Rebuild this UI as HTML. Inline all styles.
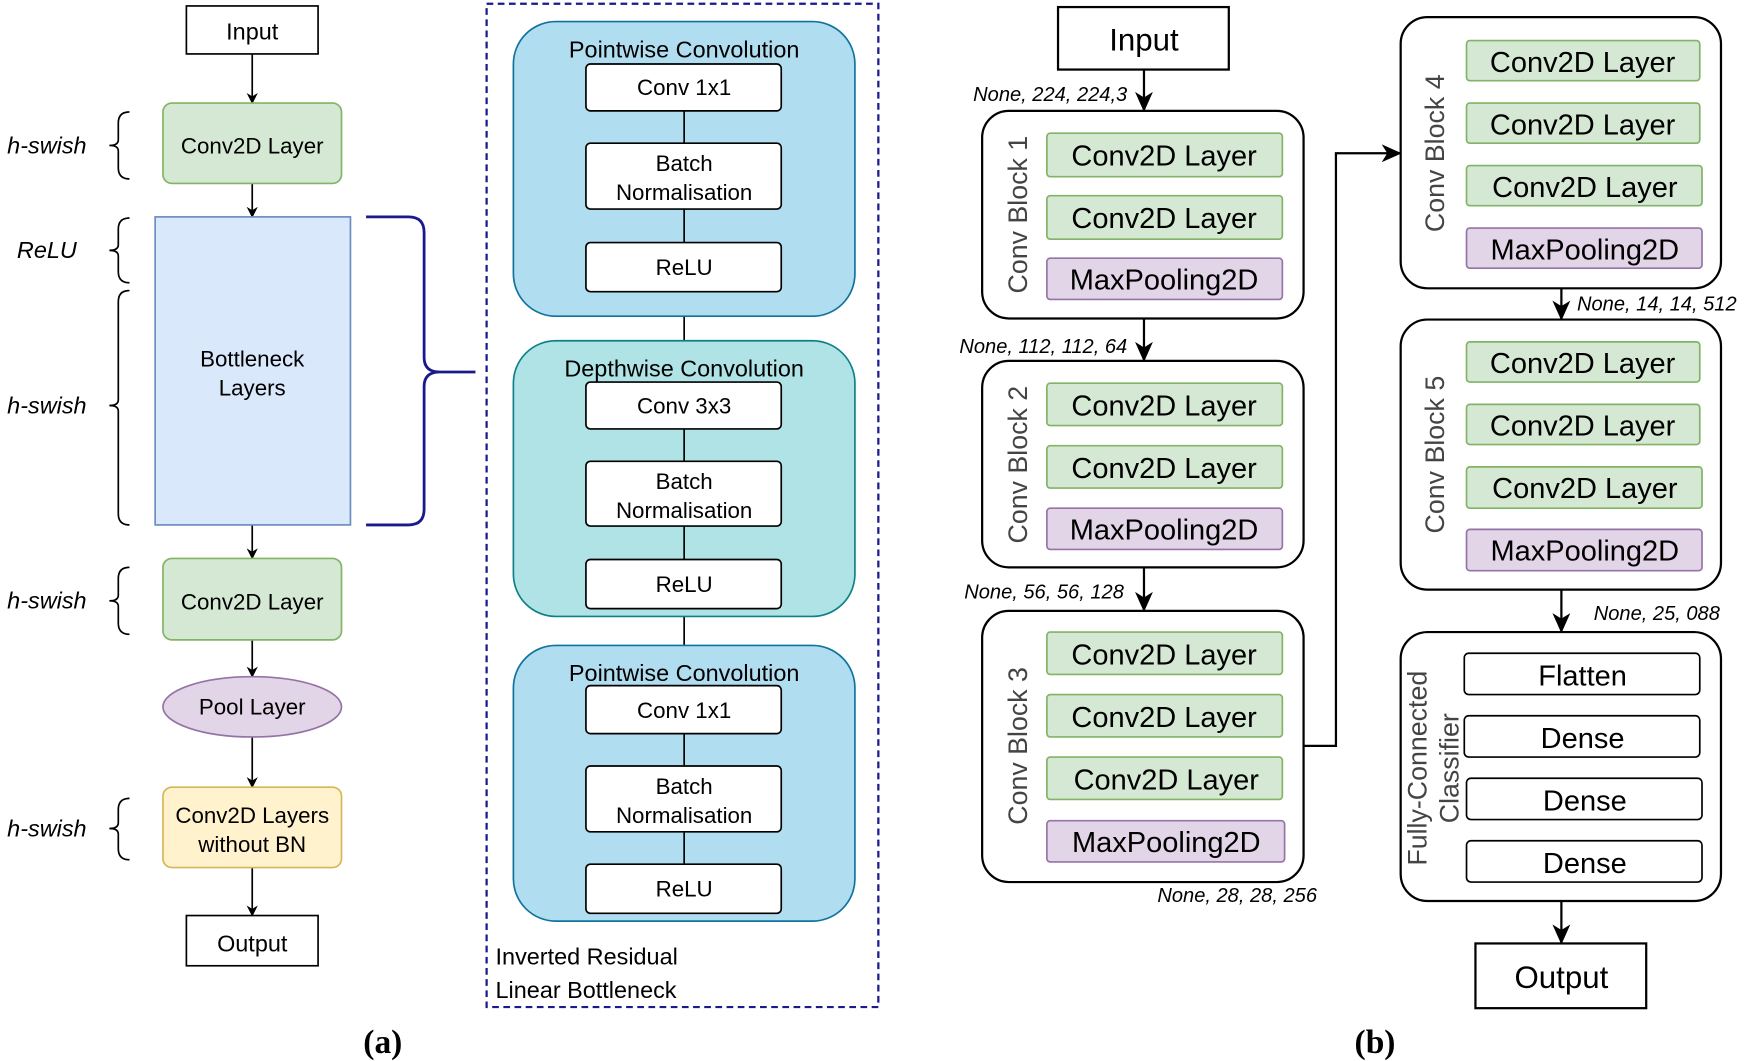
<!DOCTYPE html>
<html><head><meta charset="utf-8"><style>
html,body{margin:0;padding:0;background:#fff}
svg{display:block}
text{font-family:"Liberation Sans",sans-serif;fill:#000}
.i{font-style:italic}
</style></head><body>
<svg width="1750" height="1061" viewBox="0 0 1568 950" xmlns="http://www.w3.org/2000/svg">
<defs><marker id="a" markerWidth="10" markerHeight="10" refX="9" refY="5" orient="auto" markerUnits="userSpaceOnUse"><path d="M0,0 L10,5 L0,10 L3,5 z" fill="#000"/></marker>
<marker id="b" markerWidth="18" markerHeight="16" refX="17" refY="8" orient="auto" markerUnits="userSpaceOnUse"><path d="M0,0 L18,8 L0,16 L5,8 z" fill="#000"/></marker></defs>
<g stroke="#000" stroke-width="1.5" fill="none">
<!-- (a) arrows -->
<line x1="226" y1="48" x2="226" y2="92" marker-end="url(#a)"/>
<line x1="226" y1="164" x2="226" y2="194" marker-end="url(#a)"/>
<line x1="226" y1="470" x2="226" y2="500" marker-end="url(#a)"/>
<line x1="226" y1="573" x2="226" y2="606" marker-end="url(#a)"/>
<line x1="226" y1="660" x2="226" y2="705" marker-end="url(#a)"/>
<line x1="226" y1="777" x2="226" y2="820" marker-end="url(#a)"/>
<!-- braces -->
<path d="M116,100 q-10,0 -10,10 v15 q0,5 -8,5 q8,0 8,5 v15 q0,10 10,10"/>
<path d="M116,195 q-10,0 -10,10 v14 q0,5 -8,5 q8,0 8,5 v14 q0,10 10,10"/>
<path d="M116,260 q-10,0 -10,10 v88 q0,5 -8,5 q8,0 8,5 v92 q0,10 10,10"/>
<path d="M116,508 q-10,0 -10,10 v15 q0,5 -8,5 q8,0 8,5 v15 q0,10 10,10"/>
<path d="M116,715 q-10,0 -10,10 v12 q0,5 -8,5 q8,0 8,5 v13 q0,10 10,10"/>
</g>
<rect x="167" y="5" width="118" height="43" fill="#fff" stroke="#000" stroke-width="1.5"/>
<text x="226" y="35" font-size="21" text-anchor="middle">Input</text>
<rect x="146" y="92" width="160" height="72" rx="8" fill="#d5e8d4" stroke="#82b366" stroke-width="1.5"/>
<text x="226" y="137" font-size="20" text-anchor="middle">Conv2D Layer</text>
<rect x="139" y="194" width="175" height="276" fill="#dae8fc" stroke="#6c8ebf" stroke-width="1.5"/>
<text x="226" y="328" font-size="20" text-anchor="middle">Bottleneck</text>
<text x="226" y="354" font-size="20" text-anchor="middle">Layers</text>
<rect x="146" y="500" width="160" height="73" rx="8" fill="#d5e8d4" stroke="#82b366" stroke-width="1.5"/>
<text x="226" y="546" font-size="20" text-anchor="middle">Conv2D Layer</text>
<ellipse cx="226" cy="633" rx="80" ry="27" fill="#e1d5e7" stroke="#9673a6" stroke-width="1.5"/>
<text x="226" y="640" font-size="20" text-anchor="middle">Pool Layer</text>
<rect x="146" y="705" width="160" height="72" rx="8" fill="#fff2cc" stroke="#d6b656" stroke-width="1.5"/>
<text x="226" y="737" font-size="20" text-anchor="middle">Conv2D Layers</text>
<text x="226" y="763" font-size="20" text-anchor="middle">without BN</text>
<rect x="167" y="820" width="118" height="45" fill="#fff" stroke="#000" stroke-width="1.5"/>
<text x="226" y="852" font-size="21" text-anchor="middle">Output</text>
<text x="42" y="137" font-size="21" class="i" text-anchor="middle">h-swish</text>
<text x="42" y="231" font-size="21" class="i" text-anchor="middle">ReLU</text>
<text x="42" y="370" font-size="21" class="i" text-anchor="middle">h-swish</text>
<text x="42" y="545" font-size="21" class="i" text-anchor="middle">h-swish</text>
<text x="42" y="749" font-size="21" class="i" text-anchor="middle">h-swish</text>
<path d="M328,194 h38 q14,0 14,14 v112 q0,13 14,13 h32 M394,333 q-14,0 -14,13 v110 q0,14 -14,14 h-38" fill="none" stroke="#1a1a8c" stroke-width="2.5"/>
<rect x="436" y="3" width="351" height="899" fill="none" stroke="#1a1a8c" stroke-width="2" stroke-dasharray="6,4"/>
<g stroke="#000" stroke-width="1.5"><line x1="613" y1="283" x2="613" y2="305"/><line x1="613" y1="552" x2="613" y2="578"/></g>
<rect x="460" y="19" width="306" height="264" rx="38" fill="#b1ddf0" stroke="#10739e" stroke-width="1.5"/>
<rect x="460" y="305" width="306" height="247" rx="38" fill="#b0e3e6" stroke="#0e8088" stroke-width="1.5"/>
<rect x="460" y="578" width="306" height="247" rx="38" fill="#b1ddf0" stroke="#10739e" stroke-width="1.5"/>
<text x="613" y="51" font-size="21" text-anchor="middle">Pointwise Convolution</text>
<text x="613" y="337" font-size="21" text-anchor="middle">Depthwise Convolution</text>
<text x="613" y="610" font-size="21" text-anchor="middle">Pointwise Convolution</text>
<g stroke="#000" stroke-width="1.5">
<line x1="613" y1="99" x2="613" y2="217"/><line x1="613" y1="384" x2="613" y2="501"/><line x1="613" y1="657" x2="613" y2="774"/>
</g>
<g fill="#fff" stroke="#000" stroke-width="1.5">
<rect x="525" y="57" width="175" height="42" rx="4"/><rect x="525" y="128" width="175" height="59" rx="4"/><rect x="525" y="217" width="175" height="44" rx="4"/>
<rect x="525" y="342" width="175" height="42" rx="4"/><rect x="525" y="413" width="175" height="58" rx="4"/><rect x="525" y="501" width="175" height="44" rx="4"/>
<rect x="525" y="614" width="175" height="43" rx="4"/><rect x="525" y="686" width="175" height="59" rx="4"/><rect x="525" y="774" width="175" height="44" rx="4"/>
</g>
<g font-size="20" text-anchor="middle">
<text x="613" y="85">Conv 1x1</text><text x="613" y="153">Batch</text><text x="613" y="179">Normalisation</text><text x="613" y="246">ReLU</text>
<text x="613" y="370">Conv 3x3</text><text x="613" y="438">Batch</text><text x="613" y="464">Normalisation</text><text x="613" y="530">ReLU</text>
<text x="613" y="643">Conv 1x1</text><text x="613" y="711">Batch</text><text x="613" y="737">Normalisation</text><text x="613" y="803">ReLU</text>
</g>
<text x="444" y="864" font-size="21">Inverted Residual</text>
<text x="444" y="894" font-size="21">Linear Bottleneck</text>
<text x="343" y="943" font-size="30" font-weight="bold" text-anchor="middle" style="font-family:'Liberation Serif',serif">(a)</text>
<!-- (b) -->
<g stroke="#000" stroke-width="2" fill="none">
<line x1="1025" y1="62" x2="1025" y2="99" marker-end="url(#b)"/>
<line x1="1025" y1="285" x2="1025" y2="323" marker-end="url(#b)"/>
<line x1="1025" y1="508" x2="1025" y2="547" marker-end="url(#b)"/>
<path d="M1168,668 H1197 V137 H1255" marker-end="url(#b)"/>
<line x1="1399" y1="258" x2="1399" y2="286" marker-end="url(#b)"/>
<line x1="1399" y1="528" x2="1399" y2="566" marker-end="url(#b)"/>
<line x1="1399" y1="807" x2="1399" y2="845" marker-end="url(#b)"/>
</g>
<rect x="948" y="6" width="153" height="56" fill="#fff" stroke="#000" stroke-width="2"/>
<text x="1025" y="45" font-size="28" text-anchor="middle">Input</text>
<rect x="1322" y="845" width="153" height="58" fill="#fff" stroke="#000" stroke-width="2"/>
<text x="1399" y="885" font-size="28" text-anchor="middle">Output</text>
<g fill="#fff" stroke="#000" stroke-width="2">
<rect x="880" y="99" width="288" height="186" rx="24"/>
<rect x="880" y="323" width="288" height="185" rx="24"/>
<rect x="880" y="547" width="288" height="243" rx="24"/>
<rect x="1255" y="15" width="287" height="243" rx="24"/>
<rect x="1255" y="286" width="287" height="242" rx="24"/>
<rect x="1255" y="566" width="287" height="241" rx="24"/>
</g>
<g font-size="18" class="i" text-anchor="end">
<text x="1010" y="90">None, 224, 224,3</text>
<text x="1010" y="316">None, 112, 112, 64</text>
<text x="1007" y="536">None, 56, 56, 128</text>
</g>
<g font-size="18" class="i">
<text x="1037" y="808">None, 28, 28, 256</text>
<text x="1413" y="278">None, 14, 14, 512</text>
<text x="1428" y="555">None, 25, 088</text>
</g>
<g font-size="24" fill="#444" text-anchor="middle">
<text transform="translate(920,192) rotate(-90)" style="fill:#444">Conv Block 1</text>
<text transform="translate(920,416) rotate(-90)" style="fill:#444">Conv Block 2</text>
<text transform="translate(920,668) rotate(-90)" style="fill:#444">Conv Block 3</text>
<text transform="translate(1294,137) rotate(-90)" style="fill:#444">Conv Block 4</text>
<text transform="translate(1294,407) rotate(-90)" style="fill:#444">Conv Block 5</text>
<text transform="translate(1278,688) rotate(-90)" style="fill:#444">Fully-Connected</text>
<text transform="translate(1307,688) rotate(-90)" style="fill:#444">Classifier</text>
</g>
<g stroke-width="1.5">
<g fill="#d5e8d4" stroke="#82b366">
<rect x="938" y="119" width="211" height="39" rx="3"/><rect x="938" y="175" width="211" height="39" rx="3"/>
<rect x="938" y="343" width="211" height="38" rx="3"/><rect x="938" y="399" width="211" height="38" rx="3"/>
<rect x="938" y="566" width="211" height="38" rx="3"/><rect x="938" y="622" width="211" height="38" rx="3"/><rect x="938" y="678" width="211" height="38" rx="3"/>
<rect x="1314" y="36" width="209" height="36" rx="3"/><rect x="1314" y="92" width="209" height="36" rx="3"/><rect x="1314" y="148" width="211" height="36" rx="3"/>
<rect x="1314" y="306" width="209" height="36" rx="3"/><rect x="1314" y="362" width="209" height="36" rx="3"/><rect x="1314" y="418" width="211" height="37" rx="3"/>
</g>
<g fill="#e1d5e7" stroke="#9673a6">
<rect x="938" y="231" width="211" height="37" rx="3"/><rect x="938" y="455" width="211" height="37" rx="3"/><rect x="938" y="735" width="213" height="37" rx="3"/>
<rect x="1314" y="204" width="211" height="36" rx="3"/><rect x="1314" y="474" width="211" height="37" rx="3"/>
</g>
<g fill="#fff" stroke="#000">
<rect x="1312" y="585" width="211" height="37" rx="4"/><rect x="1312" y="641" width="211" height="37" rx="4"/><rect x="1314" y="697" width="211" height="37" rx="4"/><rect x="1314" y="753" width="211" height="37" rx="4"/>
</g>
</g>
<g font-size="26" text-anchor="middle">
<text x="1043" y="148">Conv2D Layer</text><text x="1043" y="204">Conv2D Layer</text><text x="1043" y="259">MaxPooling2D</text>
<text x="1043" y="372">Conv2D Layer</text><text x="1043" y="428">Conv2D Layer</text><text x="1043" y="483">MaxPooling2D</text>
<text x="1043" y="595">Conv2D Layer</text><text x="1043" y="651">Conv2D Layer</text><text x="1045" y="707">Conv2D Layer</text><text x="1045" y="763">MaxPooling2D</text>
<text x="1418" y="64">Conv2D Layer</text><text x="1418" y="120">Conv2D Layer</text><text x="1420" y="176">Conv2D Layer</text><text x="1420" y="232">MaxPooling2D</text>
<text x="1418" y="334">Conv2D Layer</text><text x="1418" y="390">Conv2D Layer</text><text x="1420" y="446">Conv2D Layer</text><text x="1420" y="502">MaxPooling2D</text>
<text x="1418" y="614">Flatten</text><text x="1418" y="670">Dense</text><text x="1420" y="726">Dense</text><text x="1420" y="782">Dense</text>
</g>
<text x="1232" y="943" font-size="30" font-weight="bold" text-anchor="middle" style="font-family:'Liberation Serif',serif">(b)</text>
</svg>
</body></html>
